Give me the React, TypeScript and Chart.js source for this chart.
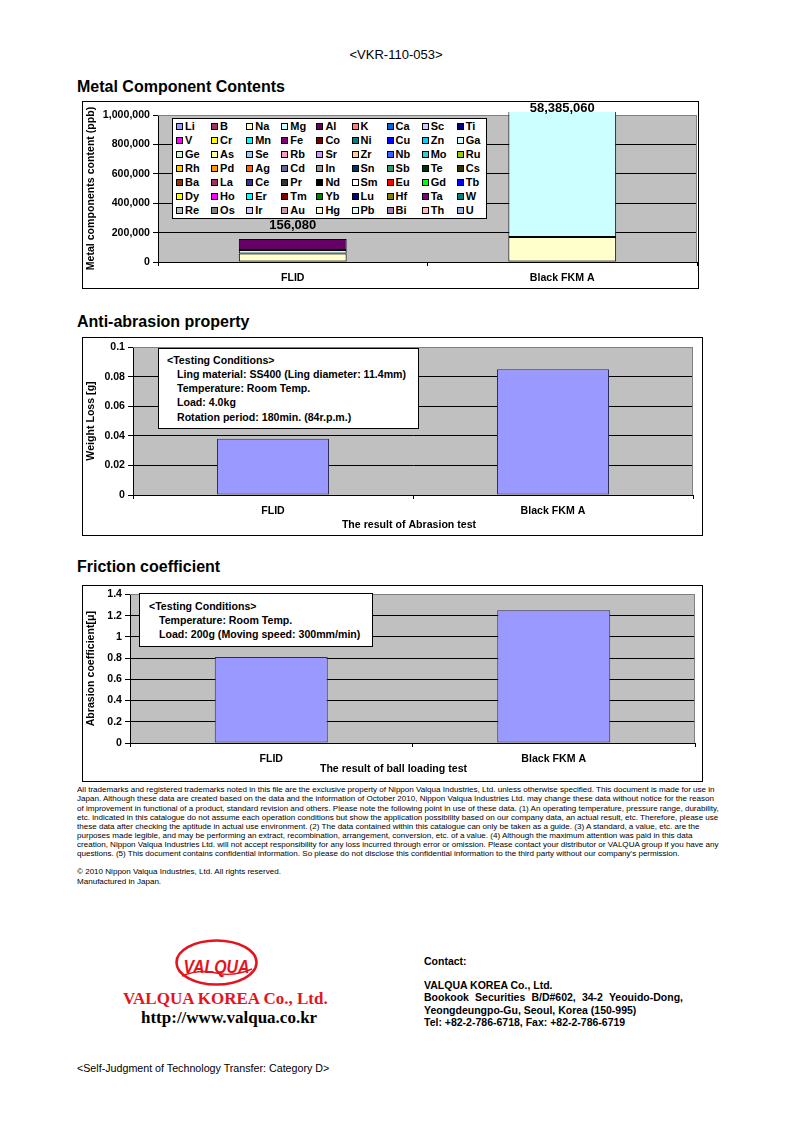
import React, { useEffect, useRef } from "react";
import { Chart, registerables } from "chart.js";

Chart.register(...registerables);

const SANS = '"Liberation Sans", Arial, Helvetica, sans-serif';
const SERIF = '"Liberation Serif", "Times New Roman", serif';
const RED = "#E3141E";

// ---------- Metal Component Contents ----------
const metalCategories = ["FLID", "Black FKM A"];
const elementNames = [
  "Li", "B", "Na", "Mg", "Al", "K", "Ca", "Sc", "Ti",
  "V", "Cr", "Mn", "Fe", "Co", "Ni", "Cu", "Zn", "Ga",
  "Ge", "As", "Se", "Rb", "Sr", "Zr", "Nb", "Mo", "Ru",
  "Rh", "Pd", "Ag", "Cd", "In", "Sn", "Sb", "Te", "Cs",
  "Ba", "La", "Ce", "Pr", "Nd", "Sm", "Eu", "Gd", "Tb",
  "Dy", "Ho", "Er", "Tm", "Yb", "Lu", "Hf", "Ta", "W",
  "Re", "Os", "Ir", "Au", "Hg", "Pb", "Bi", "Th", "U",
];
const elementColors = [
  "#9999FF", "#993366", "#FFFFCC", "#CCFFFF", "#660066", "#FF8080", "#0066CC", "#CCCCFF", "#000080",
  "#FF00FF", "#FFFF00", "#00FFFF", "#800080", "#800000", "#008080", "#0000FF", "#00CCFF", "#CCFFFF",
  "#CCFFCC", "#FFFF99", "#99CCFF", "#FF99CC", "#CC99FF", "#FFCC99", "#3366FF", "#33CCCC", "#99CC00",
  "#FFCC00", "#FF9900", "#FF6600", "#666699", "#969696", "#003366", "#339966", "#003300", "#333300",
  "#993300", "#993366", "#333399", "#333333", "#000000", "#FFFFFF", "#FF0000", "#00FF00", "#0000FF",
  "#FFFF00", "#FF00FF", "#00FFFF", "#800000", "#008000", "#000080", "#808000", "#800080", "#008080",
  "#C0C0C0", "#808080", "#CCCCFF", "#CC99AA", "#FFFFDD", "#DDFFFF", "#A080A8", "#FFBBBB", "#99B4DD",
];
const detectedElements = ["Na", "Mg", "Al"];
const flidPpb = [58000, 24000, 74080];
const blackFkmPpb = [170060, 58215000, 0];
const metalYMax = 1000000;
const metalYStep = 200000;

// ---------- Anti-abrasion property ----------
const abrasionCategories = ["FLID", "Black FKM A"];
const weightLossG = [0.038, 0.085];
const abrasionYMax = 0.1;
const abrasionYStep = 0.02;
const abrasionConditions = [
  "Ling material: SS400 (Ling diameter: 11.4mm)",
  "Temperature: Room Temp.",
  "Load: 4.0kg",
  "Rotation period: 180min. (84r.p.m.)",
];

// ---------- Friction coefficient ----------
const frictionCategories = ["FLID", "Black FKM A"];
const frictionCoef = [0.81, 1.25];
const frictionYMax = 1.4;
const frictionYStep = 0.2;
const frictionConditions = ["Temperature: Room Temp.", "Load: 200g (Moving speed: 300mm/min)"];

const footerLines = [
  "All trademarks and registered trademarks noted in this file are the exclusive property of Nippon Valqua Industries, Ltd. unless otherwise specified. This document is made for use in",
  "Japan. Although these data are created based on the data and the information of October 2010, Nippon Valqua Industries Ltd. may change these data without notice for the reason",
  "of improvement in functional of a product, standard revision and others. Please note the following point in use of these data. (1) An operating temperature, pressure range, durability,",
  "etc. indicated in this catalogue do not assume each operation conditions but show the application possibility based on our company data, an actual result, etc. Therefore, please use",
  "these data after checking the aptitude in actual use environment. (2) The data contained within this catalogue can only be taken as a guide. (3) A standard, a value, etc. are the",
  "purposes made legible, and may be performing an extract, recombination, arrangement, conversion, etc. of a value. (4) Although the maximum attention was paid in this data",
  "creation, Nippon Valqua Industries Ltd. will not accept responsibility for any loss incurred through error or omission. Please contact your distributor or VALQUA group if you have any",
  "questions. (5) This document contains confidential information. So please do not disclose this confidential information to the third party without our company's permission.",
];

const axisFont = { family: SANS, size: 10.6, weight: "bold" as const };

const plotStyle = {
  id: "plotStyle",
  beforeDraw(chart: any) {
    const { ctx, chartArea: a } = chart;
    ctx.save();
    ctx.fillStyle = "#C0C0C0";
    ctx.fillRect(a.left, a.top, a.right - a.left, a.bottom - a.top);
    ctx.restore();
  },
  beforeDatasetsDraw(chart: any) {
    const { ctx, chartArea: a } = chart;
    ctx.save();
    ctx.strokeStyle = "#808080";
    ctx.lineWidth = 1;
    const t = Math.round(a.top) + 0.5;
    const r = Math.round(a.right) - 0.5;
    ctx.beginPath();
    ctx.moveTo(a.left, t);
    ctx.lineTo(r, t);
    ctx.lineTo(r, a.bottom);
    ctx.stroke();
    ctx.restore();
  },
  afterDraw(chart: any) {
    const { ctx, width, height } = chart;
    ctx.save();
    ctx.strokeStyle = "#000";
    ctx.lineWidth = 1;
    ctx.strokeRect(0.5, 0.5, width - 1, height - 1);
    ctx.restore();
  },
};

const captionPlugin = {
  id: "caption",
  afterDraw(chart: any, _args: any, opts: any) {
    if (!opts || !opts.text) return;
    const { ctx, chartArea: a } = chart;
    ctx.save();
    ctx.fillStyle = "#000";
    ctx.font = `bold 10.6px ${SANS}`;
    ctx.textAlign = "center";
    ctx.textBaseline = "middle";
    ctx.fillText(opts.text, (a.left + a.right) / 2 + (opts.dx || 0), a.bottom + opts.dy);
    ctx.restore();
  },
};

const totalsPlugin = {
  id: "totals",
  afterDatasetsDraw(chart: any) {
    const { ctx } = chart;
    const n = chart.data.labels.length;
    ctx.save();
    ctx.fillStyle = "#000";
    ctx.font = `bold 13px ${SANS}`;
    ctx.textAlign = "center";
    ctx.textBaseline = "middle";
    for (let i = 0; i < n; i++) {
      let total = 0;
      chart.data.datasets.forEach((ds: any) => (total += ds.data[i] || 0));
      const x = chart.scales.x.getPixelForValue(i);
      const yTop = chart.scales.y.getPixelForValue(total);
      const y = Math.max(yTop - 14, 7);
      ctx.fillText(total.toLocaleString("en-US"), x, y);
    }
    ctx.restore();
  },
};

function yScale(max: number, step: number, fmt: (v: number) => string, title: string, width: number, stacked = false) {
  return {
    stacked,
    min: 0,
    max,
    ticks: { stepSize: step, color: "#000", font: axisFont, padding: 3, callback: (v: any) => fmt(Number(v)) },
    grid: {
      color: (c: any) => (c.tick && c.tick.value >= max - 1e-9 ? "#808080" : "#000"),
      lineWidth: 1,
      drawTicks: true,
      tickLength: 5,
      tickColor: "#000",
    },
    border: { display: true, color: "#000", width: 1 },
    title: { display: true, text: title, color: "#000", font: axisFont, padding: { top: 3, bottom: 0 } },
    afterFit: (s: any) => {
      s.width = width;
    },
  };
}

function xScale(height: number, stacked = false) {
  return {
    stacked,
    offset: true,
    ticks: { color: "#000", font: axisFont, padding: 6, maxRotation: 0, autoSkip: false },
    grid: { offset: true, drawOnChartArea: false, drawTicks: true, tickLength: 4, color: "#000" },
    border: { display: true, color: "#000", width: 1 },
    afterFit: (s: any) => {
      s.height = height;
    },
  };
}

function metalConfig(): any {
  return {
    type: "bar",
    data: {
      labels: metalCategories,
      datasets: elementNames.map((name, i) => {
        const k = detectedElements.indexOf(name);
        return {
          label: name,
          data: [k >= 0 ? flidPpb[k] : 0, k >= 0 ? blackFkmPpb[k] : 0],
          backgroundColor: elementColors[i],
          borderColor: "#000",
          borderWidth: 1,
          borderSkipped: false,
          barPercentage: 0.4,
          categoryPercentage: 1,
          clip: { left: false, right: false, bottom: false, top: 3 },
        };
      }),
    },
    options: {
      responsive: false,
      animation: false,
      devicePixelRatio: 1,
      layout: { padding: { left: 0, top: 14, right: 2, bottom: 0 } },
      plugins: { legend: { display: false }, tooltip: { enabled: false } },
      scales: {
        x: xScale(27, true),
        y: yScale(metalYMax, metalYStep, (v) => v.toLocaleString("en-US"), "Metal components content (ppb)", 76, true),
      },
    },
    plugins: [plotStyle, totalsPlugin],
  };
}

function simpleConfig(p: {
  labels: string[];
  values: number[];
  yMax: number;
  yStep: number;
  decimals: number;
  yTitle: string;
  caption: string;
  captionDx: number;
  captionDy: number;
  padTop: number;
  padRight: number;
  yWidth: number;
  xHeight: number;
}): any {
  return {
    type: "bar",
    data: {
      labels: p.labels,
      datasets: [
        {
          data: p.values,
          backgroundColor: "#9999FF",
          borderColor: "#2E2E5C",
          borderWidth: 1,
          borderSkipped: false,
          barPercentage: 0.4,
          categoryPercentage: 1,
        },
      ],
    },
    options: {
      responsive: false,
      animation: false,
      devicePixelRatio: 1,
      layout: { padding: { left: 0, top: p.padTop, right: p.padRight, bottom: 0 } },
      plugins: {
        legend: { display: false },
        tooltip: { enabled: false },
        caption: { text: p.caption, dx: p.captionDx, dy: p.captionDy },
      },
      scales: {
        x: xScale(p.xHeight),
        y: yScale(p.yMax, p.yStep, (v) => String(+v.toFixed(p.decimals)), p.yTitle, p.yWidth),
      },
    },
    plugins: [plotStyle, captionPlugin],
  };
}

function ChartCanvas({ left, top, width, height, build }: { left: number; top: number; width: number; height: number; build: () => any }) {
  const ref = useRef<HTMLCanvasElement>(null);
  useEffect(() => {
    const chart = new Chart(ref.current as HTMLCanvasElement, build());
    return () => chart.destroy();
  }, []);
  return (
    <canvas
      ref={ref}
      width={width}
      height={height}
      style={{ position: "absolute", left, top, width, height, display: "block" }}
    />
  );
}

function Txt({
  x,
  y,
  size,
  bold = false,
  anchor = "start",
  family = SANS,
  color = "#000",
  children,
  style = {},
}: any) {
  const lh = size * 1.2;
  const base: any = {
    position: "absolute",
    top: y - lh / 2,
    fontSize: size,
    lineHeight: `${lh}px`,
    fontFamily: family,
    fontWeight: bold ? "bold" : "normal",
    color,
    whiteSpace: "nowrap",
  };
  if (anchor === "middle") {
    base.left = x - 400;
    base.width = 800;
    base.textAlign = "center";
  } else {
    base.left = x;
  }
  return <div style={{ ...base, ...style }}>{children}</div>;
}

function ConditionsBox({ left, top, width, height, lines, headX, lineX, y0, step }: any) {
  return (
    <>
      <div
        style={{
          position: "absolute",
          left,
          top,
          width,
          height,
          boxSizing: "border-box",
          border: "1px solid #000",
          background: "#fff",
        }}
      />
      <Txt x={headX} y={y0} size={10.6} bold>
        {"<Testing Conditions>"}
      </Txt>
      {lines.map((l: string, i: number) => (
        <Txt key={i} x={lineX} y={y0 + (i + 1) * step} size={10.6} bold>
          {l}
        </Txt>
      ))}
    </>
  );
}

export default function App() {
  return (
    <div
      style={{
        position: "absolute",
        left: 0,
        top: 0,
        width: 793,
        height: 1122,
        background: "#fff",
        fontFamily: SANS,
        color: "#000",
        overflow: "hidden",
      }}
    >
      <Txt x={396} y={55} size={13} anchor="middle">
        {"<VKR-110-053>"}
      </Txt>

      {/* Metal Component Contents */}
      <Txt x={77} y={87} size={16} bold>
        Metal Component Contents
      </Txt>
      <ChartCanvas left={82} top={101} width={617} height={188} build={metalConfig} />
      <div
        style={{
          position: "absolute",
          left: 172,
          top: 118,
          width: 315,
          height: 101,
          boxSizing: "border-box",
          border: "1px solid #000",
          background: "#fff",
        }}
      >
        {elementNames.map((n, i) => {
          const c = i % 9;
          const r = Math.floor(i / 9);
          return (
            <div
              key={n}
              style={{
                position: "absolute",
                left: 3 + c * 35.1,
                top: r * 14,
                height: 14,
                display: "flex",
                alignItems: "center",
              }}
            >
              <span
                style={{
                  display: "inline-block",
                  width: 7,
                  height: 7,
                  boxSizing: "border-box",
                  border: "1px solid #000",
                  background: elementColors[i],
                }}
              />
              <span style={{ marginLeft: 2, fontSize: 11, fontWeight: "bold", lineHeight: "14px", fontFamily: SANS }}>{n}</span>
            </div>
          );
        })}
      </div>

      {/* Anti-abrasion property */}
      <Txt x={77} y={322} size={16} bold>
        Anti-abrasion property
      </Txt>
      <ChartCanvas
        left={82}
        top={337}
        width={621}
        height={199}
        build={() =>
          simpleConfig({
            labels: abrasionCategories,
            values: weightLossG,
            yMax: abrasionYMax,
            yStep: abrasionYStep,
            decimals: 2,
            yTitle: "Weight Loss [g]",
            caption: "The result of Abrasion test",
            captionDx: -4,
            captionDy: 30,
            padTop: 10,
            padRight: 10,
            yWidth: 51,
            xHeight: 41,
          })
        }
      />
      <ConditionsBox left={158} top={348} width={261} height={81} lines={abrasionConditions} headX={167} lineX={177} y0={360} step={14.25} />

      {/* Friction coefficient */}
      <Txt x={77} y={567} size={16} bold>
        Friction coefficient
      </Txt>
      <ChartCanvas
        left={82}
        top={585}
        width={621}
        height={197}
        build={() =>
          simpleConfig({
            labels: frictionCategories,
            values: frictionCoef,
            yMax: frictionYMax,
            yStep: frictionYStep,
            decimals: 1,
            yTitle: "Abrasion coefficient[\u03bc]",
            caption: "The result of ball loading test",
            captionDx: -19,
            captionDy: 26,
            padTop: 7,
            padRight: 8,
            yWidth: 48,
            xHeight: 39,
          })
        }
      />
      <ConditionsBox left={139} top={593} width={234} height={54} lines={frictionConditions} headX={149} lineX={159} y0={606} step={14.2} />

      {/* Disclaimer */}
      {footerLines.map((l, i) => (
        <Txt key={i} x={77} y={790 + i * 9.18} size={8.05}>
          {l}
        </Txt>
      ))}
      <Txt x={77} y={872} size={8.05}>
        {"\u00a9 2010 Nippon Valqua Industries, Ltd. All rights reserved."}
      </Txt>
      <Txt x={77} y={882} size={8.05}>
        Manufactured in Japan.
      </Txt>

      {/* Logo */}
      <svg style={{ position: "absolute", left: 160, top: 930, width: 120, height: 65 }} viewBox="160 930 120 65">
        <ellipse cx={216.5} cy={962.5} rx={40} ry={22} fill="none" stroke={RED} strokeWidth={2.6} />
        <text
          x={216.5}
          y={973}
          textAnchor="middle"
          fontFamily={SANS}
          fontWeight="bold"
          fontStyle="italic"
          fontSize={19}
          fill={RED}
          textLength={66}
          lengthAdjust="spacingAndGlyphs"
        >
          VALQUA
        </text>
        <path d="M182 976 Q199 969 216 973 T 252 969" stroke={RED} strokeWidth={1.4} fill="none" />
      </svg>
      <Txt x={123} y={999} size={17} bold family={SERIF} color={RED}>
        VALQUA KOREA Co., Ltd.
      </Txt>
      <Txt x={141} y={1018} size={17} bold family={SERIF}>
        http://www.valqua.co.kr
      </Txt>

      {/* Contact */}
      <Txt x={424} y={961.5} size={10.5} bold>
        Contact:
      </Txt>
      <Txt x={424} y={985} size={10.5} bold>
        VALQUA KOREA Co., Ltd.
      </Txt>
      <Txt x={424} y={997.5} size={10.5} bold style={{ width: 259, textAlign: "justify", textAlignLast: "justify", whiteSpace: "normal" }}>
        Bookook Securities B/D#602, 34-2 Yeouido-Dong,
      </Txt>
      <Txt x={424} y={1010} size={10.5} bold>
        Yeongdeungpo-Gu, Seoul, Korea (150-995)
      </Txt>
      <Txt x={424} y={1022.5} size={10.5} bold>
        Tel: +82-2-786-6718, Fax: +82-2-786-6719
      </Txt>

      <Txt x={77} y={1068} size={10.7}>
        {"<Self-Judgment of Technology Transfer: Category D>"}
      </Txt>
    </div>
  );
}
